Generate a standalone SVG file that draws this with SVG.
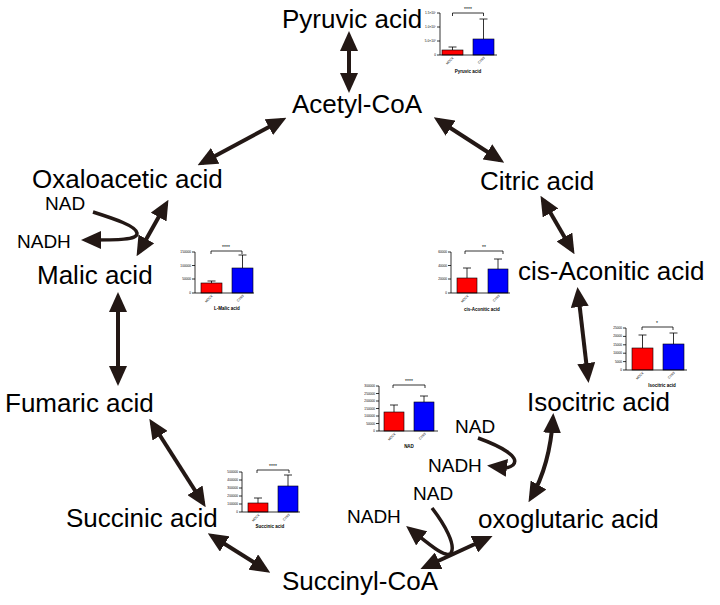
<svg xmlns="http://www.w3.org/2000/svg" width="720" height="605" viewBox="0 0 720 605">
<defs>
<marker id="ah" markerUnits="userSpaceOnUse" markerWidth="20" markerHeight="18" viewBox="0 0 20 18" refX="15" refY="9" orient="auto-start-reverse">
<path d="M0,0 L20,9 L0,18 z" fill="#231815"/>
</marker>
</defs>
<style>
.lbl{font-family:"Liberation Sans",Arial,sans-serif;font-size:26px;fill:#000}
.sm{font-family:"Liberation Sans",Arial,sans-serif;font-size:19px;fill:#000}
.arr{fill:none;stroke:#231815;stroke-width:4;marker-start:url(#ah);marker-end:url(#ah)}
.one{fill:none;stroke:#231815;stroke-width:3.5;marker-end:url(#ah)}
.ax{stroke:#000;stroke-width:0.8;fill:none}
.eb{stroke:#000;stroke-width:0.8;fill:none}
.red{fill:#ff0000;stroke:#000;stroke-width:0.6}
.blue{fill:#0000ff;stroke:#000;stroke-width:0.6}
.tk{font-family:"Liberation Sans",Arial,sans-serif;font-size:3.2px;fill:#000;text-anchor:end}
.cl{font-family:"Liberation Sans",Arial,sans-serif;font-size:4.5px;font-weight:bold;fill:#000;text-anchor:middle}
.st{font-family:"Liberation Sans",Arial,sans-serif;font-size:5px;fill:#000;text-anchor:middle}
</style>
<rect width="720" height="605" fill="#fff"/>

<g id="connectors">
<path class="arr" d="M349,36 L349,88"/>
<path class="arr" d="M282,120 L202,163"/>
<path class="arr" d="M438,120 L500,160"/>
<path class="arr" d="M543,200 L572,250"/>
<path class="arr" d="M578,292 L588,378"/>
<path class="arr" d="M553,418 Q550,465 531,498"/>
<path class="arr" d="M488,538 L425,567"/>
<path class="arr" d="M266,570 L212,536"/>
<path class="arr" d="M203,503 L152,423"/>
<path class="arr" d="M118,297 L118,381"/>
<path class="arr" d="M139,252 L166,204"/>
<path class="one" d="M93,212 C115,219 136,226 137,233 C138,240 118,240 86,240"/>
<path class="one" d="M478,438 C500,446 521,457 513,465 C507,470 500,467 492,466"/>
<path class="one" d="M432,508 C445,525 456,545 451,553 C446,559 430,545 410,529"/>
</g>

<g id="n-pyruvic"><text class="lbl" x="282" y="28">Pyruvic acid</text></g>
<g id="n-acetylcoa"><text class="lbl" x="292" y="113">Acetyl-CoA</text></g>
<g id="n-citric"><text class="lbl" x="480" y="190">Citric acid</text></g>
<g id="n-cisaconitic"><text class="lbl" x="518" y="280">cis-Aconitic acid</text></g>
<g id="n-isocitric"><text class="lbl" x="527" y="411">Isocitric acid</text></g>
<g id="n-oxoglutaric"><text class="lbl" x="478" y="528">oxoglutaric acid</text></g>
<g id="n-succinylcoa"><text class="lbl" x="282" y="590">Succinyl-CoA</text></g>
<g id="n-succinic"><text class="lbl" x="66" y="527">Succinic acid</text></g>
<g id="n-fumaric"><text class="lbl" x="5" y="412">Fumaric acid</text></g>
<g id="n-malic"><text class="lbl" x="37" y="284">Malic acid</text></g>
<g id="n-oxaloacetic"><text class="lbl" x="32" y="188">Oxaloacetic acid</text></g>

<g id="n-nad1"><text class="sm" x="45" y="210">NAD</text></g>
<g id="n-nadh1"><text class="sm" x="17" y="248">NADH</text></g>
<g id="n-nad2"><text class="sm" x="455" y="433">NAD</text></g>
<g id="n-nadh2"><text class="sm" x="428" y="472">NADH</text></g>
<g id="n-nad3"><text class="sm" x="413" y="500">NAD</text></g>
<g id="n-nadh3"><text class="sm" x="347" y="523">NADH</text></g>

<g id="chart-pyruvic">
<rect class="red" x="442" y="50" width="21" height="5"/>
<rect class="blue" x="473" y="39" width="21" height="16"/>
<path class="eb" d="M452.5,50V47M448.5,47h8M483.5,39V19M479.5,19h8"/>
<path class="ax" d="M440,13V55H497M437,13h3M437,27h3M437,41h3M437,55h3"/>
<path class="ax" d="M452.5,16V13H483.5V16"/>
<text class="st" x="468" y="11">****</text>
<text class="tk" x="436" y="14">1.5×10⁷</text>
<text class="tk" x="436" y="28">1.0×10⁷</text>
<text class="tk" x="436" y="42">5.0×10⁶</text>
<text class="tk" x="436" y="56">0</text>
<text class="tk" transform="translate(454,58) rotate(-45)">MOCK</text>
<text class="tk" transform="translate(485,58) rotate(-45)">CVB3</text>
<text class="cl" x="468" y="73">Pyruvic acid</text>
</g>

<g id="chart-malic">
<rect class="red" x="201" y="283" width="21" height="10"/>
<rect class="blue" x="232" y="268" width="21" height="25"/>
<path class="eb" d="M211.5,283V281M207.5,281h8M242.5,268V255M238.5,255h8"/>
<path class="ax" d="M195,252V293H254M192,252h3M192,265.5h3M192,279h3M192,293h3"/>
<path class="ax" d="M211,254V251H242V254"/>
<text class="st" x="226" y="249">****</text>
<text class="tk" x="191" y="253">150000</text>
<text class="tk" x="191" y="266.5">100000</text>
<text class="tk" x="191" y="280">50000</text>
<text class="tk" x="191" y="294">0</text>
<text class="tk" transform="translate(213,296) rotate(-45)">MOCK</text>
<text class="tk" transform="translate(244,296) rotate(-45)">CVB3</text>
<text class="cl" x="227" y="310">L-Malic acid</text>
</g>

<g id="chart-cisaconitic">
<rect class="red" x="457" y="278" width="20" height="15"/>
<rect class="blue" x="488" y="269" width="20" height="24"/>
<path class="eb" d="M467,278V268M463,268h8M498,269V259M494,259h8"/>
<path class="ax" d="M451,252V293H510M448,252h3M448,265.5h3M448,279h3M448,293h3"/>
<path class="ax" d="M465,254V251H503V254"/>
<text class="st" x="484" y="249">**</text>
<text class="tk" x="447" y="253">60000</text>
<text class="tk" x="447" y="266.5">40000</text>
<text class="tk" x="447" y="280">20000</text>
<text class="tk" x="447" y="294">0</text>
<text class="tk" transform="translate(469,296) rotate(-45)">MOCK</text>
<text class="tk" transform="translate(500,296) rotate(-45)">CVB3</text>
<text class="cl" x="482" y="311">cis-Aconitic acid</text>
</g>

<g id="chart-isocitric">
<rect class="red" x="632" y="348" width="21" height="22"/>
<rect class="blue" x="663" y="344" width="21" height="26"/>
<path class="eb" d="M642.5,348V335M638.5,335h8M673.5,344V333M669.5,333h8"/>
<path class="ax" d="M626,328V370H687M623,328h3M623,336.4h3M623,344.8h3M623,353.2h3M623,361.6h3M623,370h3"/>
<path class="ax" d="M642,330V327H673V330"/>
<text class="st" x="657" y="325">*</text>
<text class="tk" x="622" y="329">25000</text>
<text class="tk" x="622" y="337.4">20000</text>
<text class="tk" x="622" y="345.8">15000</text>
<text class="tk" x="622" y="354.2">10000</text>
<text class="tk" x="622" y="362.6">5000</text>
<text class="tk" x="622" y="371">0</text>
<text class="tk" transform="translate(644,373) rotate(-45)">MOCK</text>
<text class="tk" transform="translate(675,373) rotate(-45)">CVB3</text>
<text class="cl" x="662" y="387">Isocitric acid</text>
</g>

<g id="chart-nad">
<rect class="red" x="384" y="412" width="20" height="19"/>
<rect class="blue" x="414" y="402" width="20" height="29"/>
<path class="eb" d="M394,412V405M390,405h8M424,402V396M420,396h8"/>
<path class="ax" d="M379,386V431H438M376,386h3M376,393.5h3M376,401h3M376,408.5h3M376,416h3M376,423.5h3M376,431h3"/>
<path class="ax" d="M393,388V385H425V388"/>
<text class="st" x="409" y="383">****</text>
<text class="tk" x="375" y="387">300000</text>
<text class="tk" x="375" y="394.5">250000</text>
<text class="tk" x="375" y="402">200000</text>
<text class="tk" x="375" y="409.5">150000</text>
<text class="tk" x="375" y="417">100000</text>
<text class="tk" x="375" y="424.5">50000</text>
<text class="tk" x="375" y="432">0</text>
<text class="tk" transform="translate(396,434) rotate(-45)">MOCK</text>
<text class="tk" transform="translate(426,434) rotate(-45)">CVB3</text>
<text class="cl" x="409" y="448">NAD</text>
</g>

<g id="chart-succinic">
<rect class="red" x="248" y="503" width="20" height="9"/>
<rect class="blue" x="278" y="486" width="20" height="26"/>
<path class="eb" d="M258,503V498M254,498h8M288,486V475M284,475h8"/>
<path class="ax" d="M242,472V512H300M239,472h3M239,480h3M239,488h3M239,496h3M239,504h3M239,512h3"/>
<path class="ax" d="M257,473V470H289V473"/>
<text class="st" x="273" y="468">****</text>
<text class="tk" x="238" y="473">500000</text>
<text class="tk" x="238" y="481">400000</text>
<text class="tk" x="238" y="489">300000</text>
<text class="tk" x="238" y="497">200000</text>
<text class="tk" x="238" y="505">100000</text>
<text class="tk" x="238" y="513">0</text>
<text class="tk" transform="translate(260,515) rotate(-45)">MOCK</text>
<text class="tk" transform="translate(290,515) rotate(-45)">CVB3</text>
<text class="cl" x="270" y="528">Succinic acid</text>
</g>
</svg>
